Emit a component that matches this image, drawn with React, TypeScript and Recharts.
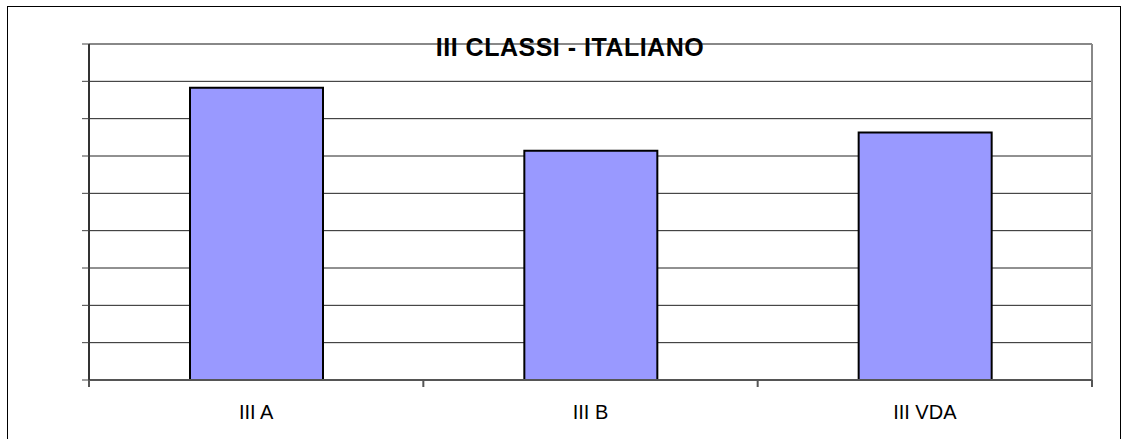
import React from 'react';
import { BarChart, Bar, XAxis, YAxis, CartesianGrid, ReferenceLine } from 'recharts';

const categories = ['III A', 'III B', 'III VDA'];
const values = [7.83, 6.14, 6.63];
const yTicks = [0, 1, 2, 3, 4, 5, 6, 7, 8, 9];
const title = 'III CLASSI - ITALIANO';

const data = categories.map((name, i) => ({ pos: i + 0.5, name, value: values[i] }));
const xTicks = [0, 0.5, 1, 1.5, 2, 2.5, 3];

const FONT = '"Liberation Sans", Arial, sans-serif';

const XTick = (props: any) => {
  const { x, y, payload } = props;
  const v = payload.value as number;
  if (Number.isInteger(v)) {
    return <line x1={x} x2={x} y1={y} y2={y + 7} stroke="#555" strokeWidth={2} />;
  }
  const idx = Math.floor(v);
  return (
    <text x={x} y={y + 39} textAnchor="middle" fontFamily={FONT} fontSize={20} fill="#000">
      {categories[idx]}
    </text>
  );
};

export default function App() {
  return (
    <div style={{ position: 'absolute', left: 0, top: 0, width: 1126, height: 439, background: '#fff', overflow: 'hidden' }}>
      <div style={{ position: 'absolute', left: 7, top: 6, width: 1112, height: 450, border: '1px solid #000' }} />
      <div style={{ position: 'absolute', left: 0, top: 0 }}>
        <BarChart width={1126} height={439} data={data} margin={{ top: 44, right: 34, bottom: 9, left: 29 }}>
          <CartesianGrid vertical={false} stroke="#222" strokeWidth={1} />
          <XAxis
            dataKey="pos"
            type="number"
            domain={[0, 3]}
            ticks={xTicks}
            interval={0}
            height={50}
            tickLine={false}
            tickSize={0}
            tickMargin={0}
            tick={<XTick />}
            axisLine={{ stroke: '#555', strokeWidth: 2 }}
          />
          <YAxis
            domain={[0, 9]}
            ticks={yTicks}
            interval={0}
            width={60}
            tickSize={7}
            tickLine={{ stroke: '#444', strokeWidth: 1 }}
            tickFormatter={() => ''}
            axisLine={{ stroke: '#333', strokeWidth: 2 }}
          />
          <ReferenceLine y={9} stroke="#888" strokeWidth={2} />
          <ReferenceLine x={3} stroke="#888" strokeWidth={2} />
          <Bar dataKey="value" barSize={133} fill="#9999FF" stroke="#000" strokeWidth={2} isAnimationActive={false} />
        </BarChart>
      </div>
      <svg width={1126} height={439} style={{ position: 'absolute', left: 0, top: 0, pointerEvents: 'none' }}>
        <text x={570} y={56} textAnchor="middle" fontFamily={FONT} fontSize={25} fontWeight="bold" letterSpacing={0.5} fill="#000">
          {title}
        </text>
      </svg>
    </div>
  );
}
